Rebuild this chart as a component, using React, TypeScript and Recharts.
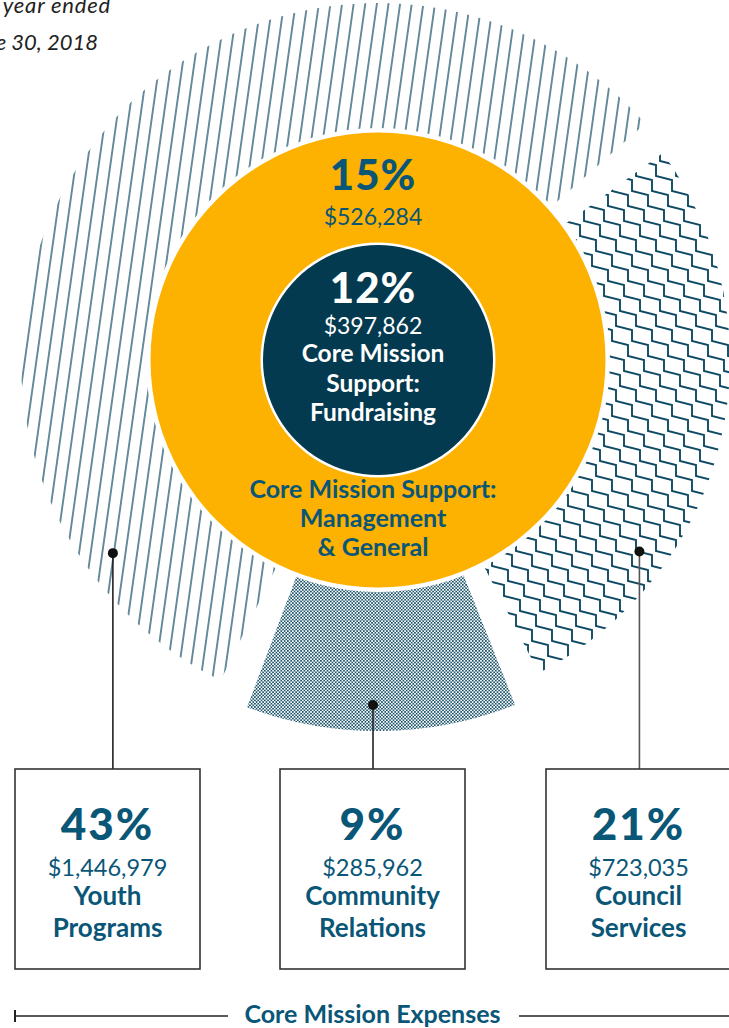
import React from 'react';
import { PieChart, Pie, Cell } from 'recharts';

// ---------- data ----------
const expenseCategories = ['Youth Programs', 'Community Relations', 'Council Services'];
const expensePercents = [43, 9, 21];
const expenseAmounts = ['$1,446,979', '$285,962', '$723,035'];
const expenseLabelLines = [['Youth', 'Programs'], ['Community', 'Relations'], ['Council', 'Services']];

const supportCategories = ['Core Mission Support: Management & General', 'Core Mission Support: Fundraising'];
const supportPercents = [15, 12];
const supportAmounts = ['$526,284', '$397,862'];
const managementLabelLines = ['Core Mission Support:', 'Management', '& General'];
const fundraisingLabelLines = ['Core Mission', 'Support:', 'Fundraising'];

const titleLines = ['For the fiscal year ended', 'June 30, 2018'];
const footerLabel = 'Core Mission Expenses';

// ---------- style / layout ----------
const W = 729;
const H = 1028;
const CX = 373;
const CY = 355;
const ORANGE = '#fdb100';
const NAVY = '#033a4f';
const TEAL = '#0a5677';
const PAT = '#0e4a63';
const FONT = 'Lato, "Open Sans", sans-serif';

const expenseFills = ['url(#hatchPat)', 'url(#dotPat)', 'url(#zigPat)'];
const expenseRadius = [357, 371, 352];
const leaderPolar = [
  { angle: 217.3, r: 327 },
  { angle: 270, r: 350 },
  { angle: -36.4, r: 331 },
];
const boxLeft = [15, 280, 546];
const boxWidth = 185;
const boxTop = 769;
const boxHeight = 200;

// zigzag (staircase) pattern geometry
const ZIG_STEP_X = 16;
const ZIG_STEP_Y = 15;
const ZIG_RISE = 11;
const ZIG_ROW = 20;
const zigPath = (() => {
  let d = '';
  for (let i = -6; i <= 6; i++) {
    const ox = ZIG_ROW * i;
    d += `M${ox - 6 * ZIG_STEP_X},${-6 * ZIG_STEP_Y}`;
    for (let k = -6; k <= 6; k++) {
      const x = ZIG_STEP_X * k + ox;
      const y = ZIG_STEP_Y * k;
      d += ` L${x},${y + ZIG_RISE} L${x + ZIG_STEP_X},${y + ZIG_STEP_Y}`;
    }
    d += ' ';
  }
  return d;
})();

const outerData = expenseCategories.map((name, i) => ({ name, value: expensePercents[i] }));
const mgmtData = [{ name: supportCategories[0], value: supportPercents[0] }];
const fundData = [{ name: supportCategories[1], value: supportPercents[1] }];

const polar = (angle: number, r: number) => ({
  x: CX + r * Math.cos((angle * Math.PI) / 180),
  y: CY - r * Math.sin((angle * Math.PI) / 180),
});

export default function App() {
  return (
    <div
      style={{
        position: 'absolute',
        left: 0,
        top: 0,
        width: W,
        height: H,
        overflow: 'hidden',
        background: '#fff',
        fontFamily: FONT,
      }}
    >
      <PieChart width={W} height={H} style={{ position: 'absolute', left: 0, top: 0 }}>
        <defs>
          <pattern id="hatchPat" patternUnits="userSpaceOnUse" width="11.5" height="11.5" patternTransform="rotate(8)">
            <line x1="5.75" y1="-1" x2="5.75" y2="13" stroke={PAT} strokeWidth="1.25" />
          </pattern>
          <pattern id="dotPat" patternUnits="userSpaceOnUse" width="3.3" height="3.3">
            <rect x="0" y="0" width="1.6" height="1.6" fill={PAT} />
            <rect x="1.65" y="1.65" width="1.6" height="1.6" fill={PAT} />
          </pattern>
          <pattern id="zigPat" patternUnits="userSpaceOnUse" width={ZIG_ROW} height={75}>
            <path d={zigPath} stroke={PAT} strokeWidth="1.9" fill="none" strokeLinejoin="miter" />
          </pattern>
        </defs>
        {expenseCategories.map((c, k) => (
          <Pie
            key={c}
            data={outerData}
            dataKey="value"
            cx={CX}
            cy={CY}
            innerRadius={0}
            outerRadius={expenseRadius[k]}
            startAngle={41.5}
            endAngle={401.5}
            paddingAngle={5.5}
            stroke="none"
            isAnimationActive={false}
          >
            {outerData.map((d, i) => (
              <Cell key={d.name} fill={i === k ? expenseFills[i] : 'transparent'} />
            ))}
          </Pie>
        ))}
        <Pie data={mgmtData} dataKey="value" cx={CX} cy={CY} outerRadius={232} stroke="none" fill="#ffffff" isAnimationActive={false} />
        <Pie data={mgmtData} dataKey="value" cx={CX} cy={CY} outerRadius={227.5} stroke="none" fill={ORANGE} isAnimationActive={false} />
        <Pie data={fundData} dataKey="value" cx={CX} cy={CY} outerRadius={117.5} stroke="none" fill="#ffffff" isAnimationActive={false} />
        <Pie data={fundData} dataKey="value" cx={CX} cy={CY} outerRadius={115} stroke="none" fill={NAVY} isAnimationActive={false} />
      </PieChart>

      <svg width={W} height={H} style={{ position: 'absolute', left: 0, top: 0 }}>
        {/* title */}
        <text x={111} y={13} textAnchor="end" fontStyle="italic" fontSize={22} fill="#222" fontFamily={FONT} letterSpacing={0.8}>
          {titleLines[0]}
        </text>
        <text x={98} y={50} textAnchor="end" fontStyle="italic" fontSize={22} fill="#222" fontFamily={FONT}>
          {titleLines[1]}
        </text>

        {/* management label */}
        <text x={CX} y={190} textAnchor="middle" fontWeight={900} fontSize={42} fill={TEAL} letterSpacing={1}>
          {supportPercents[0]}%
        </text>
        <text x={CX} y={225} textAnchor="middle" fontSize={23} fill={TEAL}>
          {supportAmounts[0]}
        </text>
        {managementLabelLines.map((t, i) => (
          <text key={t} x={CX} y={498 + i * 29} textAnchor="middle" fontWeight={700} fontSize={25} fill={TEAL}>
            {t}
          </text>
        ))}

        {/* fundraising label */}
        <text x={CX} y={303} textAnchor="middle" fontWeight={900} fontSize={42} fill="#fff" letterSpacing={1}>
          {supportPercents[1]}%
        </text>
        <text x={CX} y={334} textAnchor="middle" fontSize={23} fill="#fff">
          {supportAmounts[1]}
        </text>
        {fundraisingLabelLines.map((t, i) => (
          <text key={t} x={CX} y={362 + i * 29.5} textAnchor="middle" fontWeight={700} fontSize={24.5} fill="#fff">
            {t}
          </text>
        ))}

        {/* leader lines and boxes */}
        {expenseCategories.map((c, i) => {
          const p = polar(leaderPolar[i].angle, leaderPolar[i].r);
          const cxBox = boxLeft[i] + boxWidth / 2;
          return (
            <g key={c}>
              <line x1={p.x} y1={p.y} x2={p.x} y2={boxTop} stroke={i === 2 ? '#555' : '#222'} strokeWidth={1.6} />
              <circle cx={p.x} cy={p.y} r={5} fill="#111" />
              <rect x={boxLeft[i]} y={boxTop} width={boxWidth} height={boxHeight} fill="#fff" stroke="#333" strokeWidth={1.6} />
              <text x={cxBox} y={840} textAnchor="middle" fontWeight={900} fontSize={44} fill={TEAL} letterSpacing={2}>
                {expensePercents[i]}%
              </text>
              <text x={cxBox} y={876} textAnchor="middle" fontSize={23.5} fill={TEAL}>
                {expenseAmounts[i]}
              </text>
              {expenseLabelLines[i].map((t, j) => (
                <text key={t} x={cxBox} y={905 + j * 32} textAnchor="middle" fontWeight={700} fontSize={26} fill={TEAL}>
                  {t}
                </text>
              ))}
            </g>
          );
        })}

        {/* footer bracket */}
        <line x1={15} y1={1016} x2={228} y2={1016} stroke="#222" strokeWidth={1.5} />
        <line x1={15} y1={1010} x2={15} y2={1022} stroke="#222" strokeWidth={2} />
        <line x1={519} y1={1016} x2={729} y2={1016} stroke="#222" strokeWidth={1.5} />
        <text x={372.5} y={1023} textAnchor="middle" fontWeight={700} fontSize={25} fill={TEAL}>
          {footerLabel}
        </text>
      </svg>
    </div>
  );
}
